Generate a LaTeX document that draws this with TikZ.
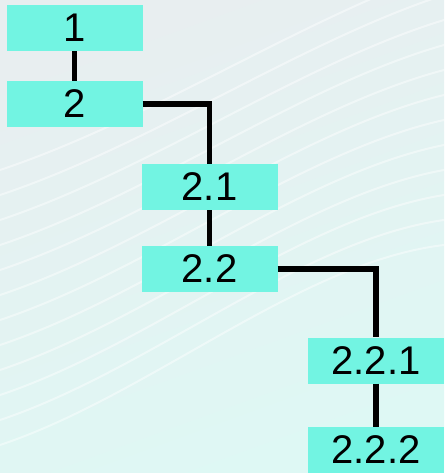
\documentclass[tikz,border=0pt]{standalone}
\usepackage{fontspec}
\setmainfont{Liberation Sans}
\usetikzlibrary{positioning}

\definecolor{boxcol}{RGB}{114,244,226}
\definecolor{bgtop}{RGB}{232,238,240}
\definecolor{bgbot}{RGB}{222,248,244}

\begin{document}
\begin{tikzpicture}[x=1pt,y=-1pt,node distance=80pt,on grid,
	level/.style={fill=boxcol,minimum width=136pt,minimum height=46pt,inner sep=0pt,
		font=\fontsize{40}{40}\selectfont},
	link/.style={line width=5.5pt}]
	\useasboundingbox (0,0) rectangle (444,473);
	% background
	\begin{scope}
		\clip (0,0) rectangle (444,473);
		\shade[top color=bgtop,bottom color=bgbot,shading angle=20] (0,0) rectangle (444,473);
		\foreach \k in {0,...,11}
			\draw[white,opacity=0.45,line width=2pt]
				(0,170+25*\k) .. controls (150,120+25*\k) and (300,20+22*\k) .. (444,-30+25*\k);
	\end{scope}

	\node[level] (n1) at (74.5,28) {1};
	\node[level] (n2) [below=76pt of n1] {2};
	\node[level] (n21) [below right=83pt and 135pt of n2] {2.1};
	\node[level] (n22) [below=82pt of n21] {2.2};
	\node[level] (n221) [below right=91.5pt and 166.5pt of n22] {2.2.1};
	\node[level] (n222) [below=89.5pt of n221] {2.2.2};

	\draw[link] (n1) -- (n2);
	\draw[link] (n2.east) -| (n21.north);
	\draw[link] (n21) -- (n22);
	\draw[link] (n22.east) -| (n221.north);
	\draw[link] (n221) -- (n222);
\end{tikzpicture}
\end{document}
